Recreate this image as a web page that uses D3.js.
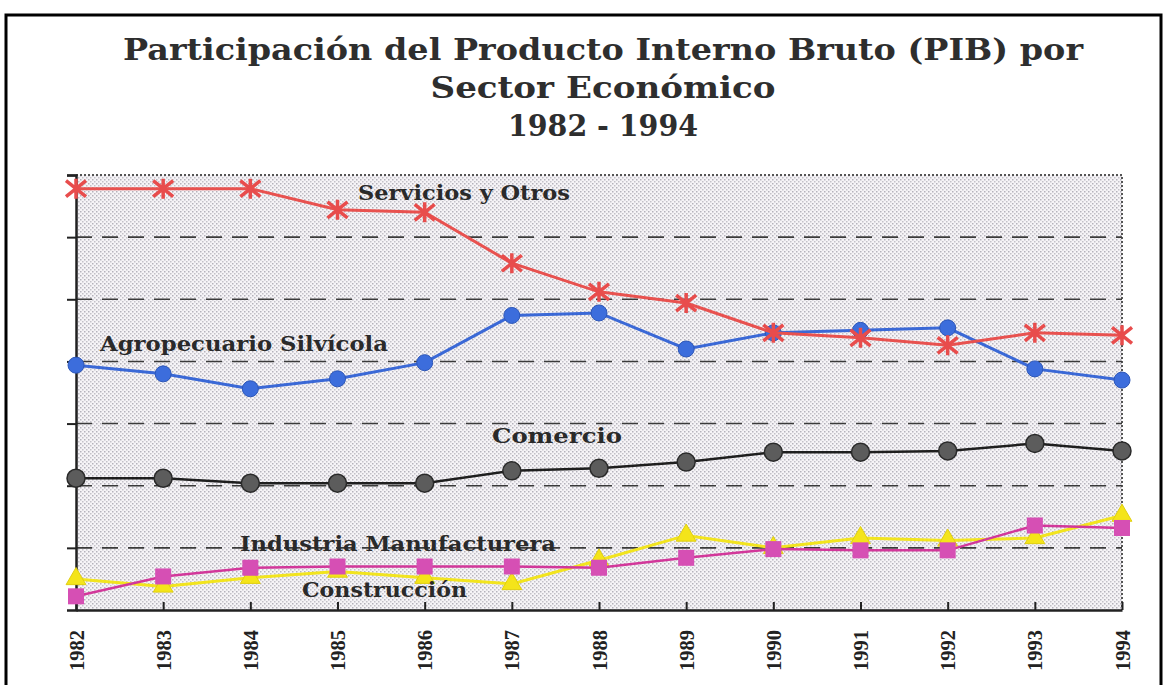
<!DOCTYPE html>
<html>
<head>
<meta charset="utf-8">
<script src="https://cdn.jsdelivr.net/npm/d3@7"></script>
<style>
  body { margin: 0; background: #fff; }
  svg { display: block; }
</style>
</head>
<body>
<div id="chart"></div>
<script>
// Data (% of PIB, y axis has no labels)
var years = [1982, 1983, 1984, 1985, 1986, 1987, 1988, 1989, 1990, 1991, 1992, 1993, 1994];
var servicios   = [33.9, 33.9, 33.9, 32.2, 32.0, 27.9, 25.6, 24.7, 22.3, 21.9, 21.3, 22.3, 22.1];
var agropecuario = [19.7, 19.0, 17.8, 18.6, 19.9, 23.7, 23.9, 21.0, 22.3, 22.5, 22.7, 19.4, 18.5];
var comercio    = [10.6, 10.6, 10.2, 10.2, 10.2, 11.2, 11.4, 11.9, 12.7, 12.7, 12.8, 13.4, 12.8];
var industria   = [1.1, 2.7, 3.4, 3.5, 3.5, 3.5, 3.4, 4.2, 4.9, 4.8, 4.8, 6.8, 6.6];
var construccion = [2.5, 1.9, 2.6, 3.1, 2.6, 2.1, 4.0, 6.0, 5.0, 5.8, 5.6, 5.8, 7.6];
var gridValues = [5, 10, 15, 20, 25, 30];

var W = 1167, H = 685;
var margin = {top: 175, right: 45, bottom: 75, left: 76},
    width = W - margin.left - margin.right,
    height = 610 - margin.top;

var svg = d3.select("#chart").append("svg")
    .attr("width", W)
    .attr("height", H);

// halftone-ish background pattern
var defs = svg.append("defs");
var pat = defs.append("pattern")
    .attr("id", "dots")
    .attr("width", 4).attr("height", 4)
    .attr("patternUnits", "userSpaceOnUse");
pat.append("rect").attr("width", 4).attr("height", 4).attr("fill", "#f6f4f7");
pat.append("rect").attr("x", 0).attr("y", 0).attr("width", 1.5).attr("height", 1.5).attr("fill", "#b4b2bb");
pat.append("rect").attr("x", 2).attr("y", 2).attr("width", 1.5).attr("height", 1.5).attr("fill", "#c3c1c8");

// outer frame
svg.append("rect")
    .attr("x", 6).attr("y", 15)
    .attr("width", 1155).attr("height", 700)
    .attr("fill", "none")
    .attr("stroke", "#000")
    .attr("stroke-width", 3);

// title
var titleLines = ["Participación del Producto Interno Bruto (PIB) por", "Sector Económico", "1982 - 1994"];
var titleW = [960, 345, 190];
svg.selectAll(".title")
    .data(titleLines)
    .enter()
    .append("text")
    .attr("class", "title")
    .attr("x", 603)
    .attr("y", function(d, i) { return 60 + i * 38; })
    .attr("text-anchor", "middle")
    .attr("textLength", function(d, i) { return titleW[i]; })
    .attr("lengthAdjust", "spacingAndGlyphs")
    .style("font-family", "'DejaVu Serif', serif")
    .style("font-weight", "bold")
    .style("font-size", "29px")
    .style("fill", "#2e2e2e")
    .text(function(d) { return d; });

var g = svg.append("g")
    .attr("transform", "translate(" + margin.left + "," + margin.top + ")");

var x = d3.scalePoint()
    .domain(years)
    .range([0, width]);

var y = d3.scaleLinear()
    .domain([0, 35])
    .range([height, 0]);

g.append("rect")
    .attr("width", width)
    .attr("height", height)
    .attr("fill", "url(#dots)");

// top + right dotted border
g.append("path")
    .attr("d", "M0,0H" + width + "V" + height)
    .attr("fill", "none")
    .attr("stroke", "#555")
    .attr("stroke-width", 2)
    .attr("stroke-dasharray", "2,2");

// dashed gridlines
g.selectAll(".grid")
    .data(gridValues)
    .enter()
    .append("line")
    .attr("class", "grid")
    .attr("x1", 0)
    .attr("x2", width)
    .attr("y1", function(d) { return y(d); })
    .attr("y2", function(d) { return y(d); })
    .attr("stroke", "#3a3a3a")
    .attr("stroke-width", 1.6)
    .attr("stroke-dasharray", "16,10");

// Y axis (no labels)
g.append("g")
    .call(d3.axisLeft(y).tickValues(gridValues.concat([35])).tickSize(9).tickFormat(""))
    .call(function(a) { a.select(".domain").attr("stroke", "#222").attr("stroke-width", 2.5); })
    .selectAll(".tick line").attr("stroke", "#222").attr("stroke-width", 2);

// X axis
var xAxis = g.append("g")
    .attr("transform", "translate(0," + height + ")")
    .call(d3.axisBottom(x).tickSizeInner(-8).tickSizeOuter(0));
xAxis.select(".domain").attr("stroke", "#222").attr("stroke-width", 2.5);
xAxis.selectAll(".tick line").attr("stroke", "#222").attr("stroke-width", 2);
xAxis.selectAll(".tick text")
    .attr("transform", "rotate(-90)")
    .attr("x", -20)
    .attr("y", 0)
    .attr("dy", "0.35em")
    .attr("text-anchor", "end")
    .attr("textLength", 41)
    .attr("lengthAdjust", "spacingAndGlyphs")
    .style("font-family", "'Liberation Serif', 'Times New Roman', serif")
    .style("font-weight", "bold")
    .style("font-size", "20px")
    .style("fill", "#222");

var line = d3.line()
    .x(function(d, i) { return x(years[i]); })
    .y(function(d) { return y(d); });

function drawLine(values, color, w) {
    g.append("path")
        .datum(values)
        .attr("d", line)
        .attr("fill", "none")
        .attr("stroke", color)
        .attr("stroke-width", w);
}

// Construcción (yellow triangles)
drawLine(construccion, "#f2e41e", 3);
g.selectAll(".tri")
    .data(construccion)
    .enter()
    .append("path")
    .attr("transform", function(d, i) { return "translate(" + x(years[i]) + "," + y(d) + ")"; })
    .attr("d", d3.symbol().type(d3.symbolTriangle).size(170))
    .attr("fill", "#f4e41a")
    .attr("stroke", "#e0cf10")
    .attr("stroke-width", 1);

// Industria Manufacturera (magenta squares)
drawLine(industria, "#d2379a", 2.5);
g.selectAll(".sq")
    .data(industria)
    .enter()
    .append("rect")
    .attr("x", function(d, i) { return x(years[i]) - 8; })
    .attr("y", function(d) { return y(d) - 8; })
    .attr("width", 16)
    .attr("height", 16)
    .attr("fill", "#d64fb4");

// Comercio (dark gray circles)
drawLine(comercio, "#1e1e1e", 2.5);
g.selectAll(".com")
    .data(comercio)
    .enter()
    .append("circle")
    .attr("cx", function(d, i) { return x(years[i]); })
    .attr("cy", function(d) { return y(d); })
    .attr("r", 9)
    .attr("fill", "#5c5c5c")
    .attr("stroke", "#2a2a2a")
    .attr("stroke-width", 1.5);

// Agropecuario Silvícola (blue circles)
drawLine(agropecuario, "#3a68d6", 3);
g.selectAll(".agr")
    .data(agropecuario)
    .enter()
    .append("circle")
    .attr("cx", function(d, i) { return x(years[i]); })
    .attr("cy", function(d) { return y(d); })
    .attr("r", 8)
    .attr("fill", "#3c6ddc")
    .attr("stroke", "#2c56b8")
    .attr("stroke-width", 1);

// Servicios y Otros (red asterisks)
drawLine(servicios, "#e8514f", 3);
g.selectAll(".star")
    .data(servicios)
    .enter()
    .append("path")
    .attr("transform", function(d, i) { return "translate(" + x(years[i]) + "," + y(d) + ")"; })
    .attr("d", "M-10,-8L10,8M-10,8L10,-8M0,-10V10")
    .attr("fill", "none")
    .attr("stroke", "#e84c4c")
    .attr("stroke-width", 3.5);

// series annotations
var annoText = ["Servicios y Otros", "Agropecuario Silvícola", "Comercio", "Industria Manufacturera", "Construcción"];
var annoX = [358, 100, 492, 240, 302];
var annoY = [200, 351, 443, 551, 597];
var annoW = [212, 288, 130, 316, 165];
svg.selectAll(".anno")
    .data(annoText)
    .enter()
    .append("text")
    .attr("class", "anno")
    .attr("x", function(d, i) { return annoX[i]; })
    .attr("y", function(d, i) { return annoY[i]; })
    .attr("textLength", function(d, i) { return annoW[i]; })
    .attr("lengthAdjust", "spacingAndGlyphs")
    .style("font-family", "'DejaVu Serif', serif")
    .style("font-weight", "bold")
    .style("font-size", "20px")
    .style("fill", "#2a2a2a")
    .text(function(d) { return d; });
</script>
</body>
</html>
